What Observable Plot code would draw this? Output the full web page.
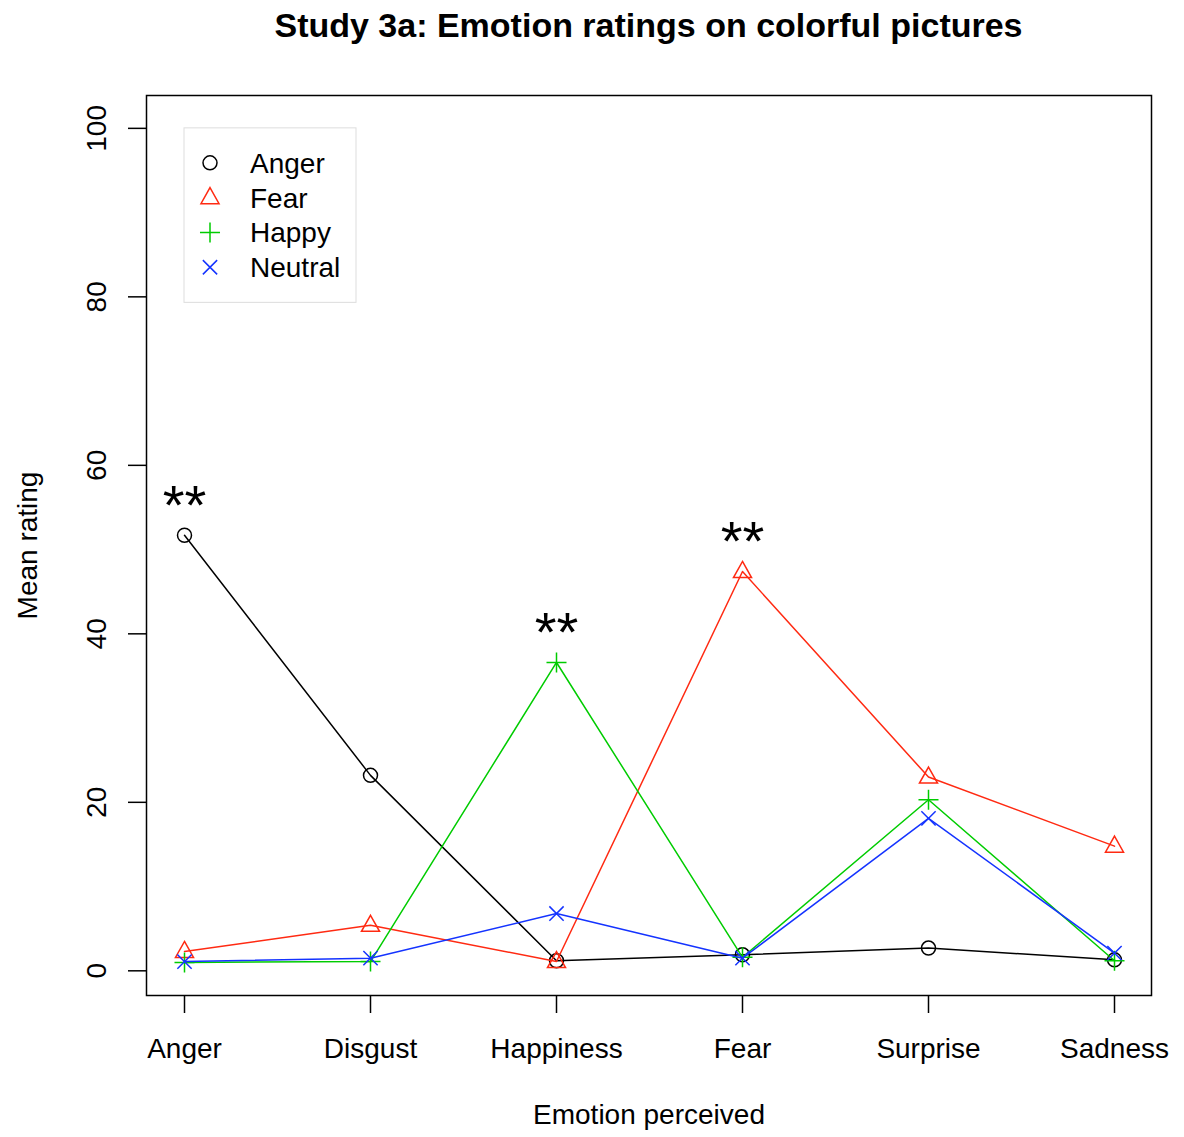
<!DOCTYPE html>
<html>
<head>
<meta charset="utf-8">
<script src="https://cdn.jsdelivr.net/npm/d3@7"></script>
<script src="https://cdn.jsdelivr.net/npm/@observablehq/plot@0.6"></script>
<style>
  html, body { margin: 0; padding: 0; background: white; }
  #wrap { width: 1184px; }
  #title { height: 60px; line-height: 51px; padding-top: 6px; text-align: center; font: bold 34px "Liberation Sans", Arial, sans-serif; color: black; padding-left: 113px; box-sizing: border-box; white-space: nowrap; }
  svg { display: block; }
</style>
</head>
<body>
<div id="wrap">
  <div id="title">Study 3a: Emotion ratings on colorful pictures</div>
  <div id="chart"></div>
</div>
<script>
// ---- data ----
const categories = ["Anger", "Disgust", "Happiness", "Fear", "Surprise", "Sadness"];
const seriesNames = ["Anger", "Fear", "Happy", "Neutral"];
const angerFaces   = [51.7, 23.2, 1.2, 1.9, 2.7, 1.3];
const fearFaces    = [2.3, 5.4, 1.1, 47.4, 23.0, 14.8];
const happyFaces   = [1.0, 1.1, 36.6, 1.6, 20.3, 1.2];
const neutralFaces = [1.1, 1.5, 6.8, 1.5, 18.1, 2.1];
const seriesColors = ["#000000", "#ff2a12", "#00cc00", "#1433ff"];
const sigCategories = ["Anger", "Happiness", "Fear"];
const sigLabels = ["**", "**", "**"];
const yTicks = [0, 20, 40, 60, 80, 100];
const xLabel = "Emotion perceived";
const yLabel = "Mean rating";

// ---- symbols (R pch 1, 2, 3, 4) ----
const rad = (size) => Math.sqrt(size / Math.PI);
const symCircle = {draw(ctx, size) { const r = rad(size); ctx.moveTo(r, 0); ctx.arc(0, 0, r, 0, 2 * Math.PI); ctx.closePath(); }};
const symTriangle = {draw(ctx, size) { const r = rad(size); ctx.moveTo(0, -1.43 * r); ctx.lineTo(1.29 * r, 0.86 * r); ctx.lineTo(-1.29 * r, 0.86 * r); ctx.closePath(); }};
const symPlus = {draw(ctx, size) { const r = rad(size) * 1.43; ctx.moveTo(-r, 0); ctx.lineTo(r, 0); ctx.moveTo(0, -r); ctx.lineTo(0, r); }};
const symTimes = {draw(ctx, size) { const r = rad(size) * 1.02; ctx.moveTo(-r, -r); ctx.lineTo(r, r); ctx.moveTo(-r, r); ctx.lineTo(r, -r); }};
const seriesSymbols = [symCircle, symTriangle, symPlus, symTimes];

const seriesValues = [angerFaces, fearFaces, happyFaces, neutralFaces];
const rows = seriesValues.flatMap((vals, si) => categories.map((c, i) => ({category: c, series: seriesNames[si], value: vals[i]})));
const sigRows = sigCategories.map((c, k) => {
  const i = categories.indexOf(c);
  return {category: c, label: sigLabels[k], value: d3.max(seriesValues, v => v[i])};
});

const font = "Liberation Sans, Arial, Helvetica, sans-serif";
const marks = [];
seriesNames.forEach((s, si) => {
  const data = rows.filter(d => d.series === s);
  marks.push(Plot.line(data, {x: "category", y: "value", stroke: seriesColors[si], strokeWidth: 1.5}));
  marks.push(Plot.dot(data, {x: "category", y: "value", r: 7, symbol: seriesSymbols[si], stroke: seriesColors[si], fill: "none", strokeWidth: 1.5}));
});

const plot = Plot.plot({
  width: 1184,
  height: 1077,
  marginTop: 35,
  marginBottom: 142,
  marginLeft: 146,
  marginRight: 33,
  style: {fontFamily: font, background: "white", color: "black"},
  x: {type: "point", domain: categories, padding: 0.2, axis: null, label: null},
  y: {domain: [-2.93, 103.9], axis: null, label: null},
  marks: [
    Plot.axisX({ticks: categories, tickSize: 18, strokeWidth: 1.5, text: null, label: null}),
    Plot.axisY({ticks: yTicks, tickSize: 18, strokeWidth: 1.5, text: null, label: null}),
    Plot.text(categories, {x: d => d, text: d => d, frameAnchor: "bottom", dy: 62, lineAnchor: "bottom", fontSize: 28, fill: "black"}),
    Plot.text(yTicks, {y: d => d, text: d => String(d), frameAnchor: "left", dx: -41, rotate: -90, lineAnchor: "bottom", textAnchor: "middle", fontSize: 28, fill: "black"}),
    Plot.text([xLabel], {text: d => d, frameAnchor: "bottom", dy: 128, lineAnchor: "bottom", fontSize: 28, fill: "black"}),
    Plot.text([yLabel], {text: d => d, frameAnchor: "left", dx: -110, rotate: -90, lineAnchor: "bottom", textAnchor: "middle", fontSize: 28, fill: "black"}),
    ...marks,
    Plot.text(sigRows, {x: "category", y: "value", text: "label", dy: -11, lineAnchor: "bottom", fontSize: 56, fill: "black"}),
    Plot.frame({stroke: "black", strokeWidth: 1.5})
  ]
});

// ---- legend (placed at x = "Anger", y = 100, like R's legend(1, 100, ...)) ----
const svg = d3.select(plot);
const lx = plot.scale("x").apply("Anger");
const ly = plot.scale("y").apply(100);
const g = svg.append("g").attr("font-family", font).attr("font-size", 28).attr("text-anchor", "start");
g.append("rect").attr("x", lx).attr("y", ly).attr("width", 172).attr("height", 174.5)
  .attr("fill", "white").attr("stroke", "#dddddd").attr("stroke-width", 1);
seriesNames.forEach((s, i) => {
  const cy = ly + 35 + i * 34.8;
  g.append("path").attr("d", d3.symbol(seriesSymbols[i], 49 * Math.PI)())
    .attr("transform", `translate(${lx + 26},${cy})`)
    .attr("fill", "none").attr("stroke", seriesColors[i]).attr("stroke-width", 1.5);
  g.append("text").attr("x", lx + 66).attr("y", cy + 10).attr("fill", "black").attr("text-anchor", "start").text(s);
});

document.getElementById("chart").appendChild(plot);
</script>
</body>
</html>
